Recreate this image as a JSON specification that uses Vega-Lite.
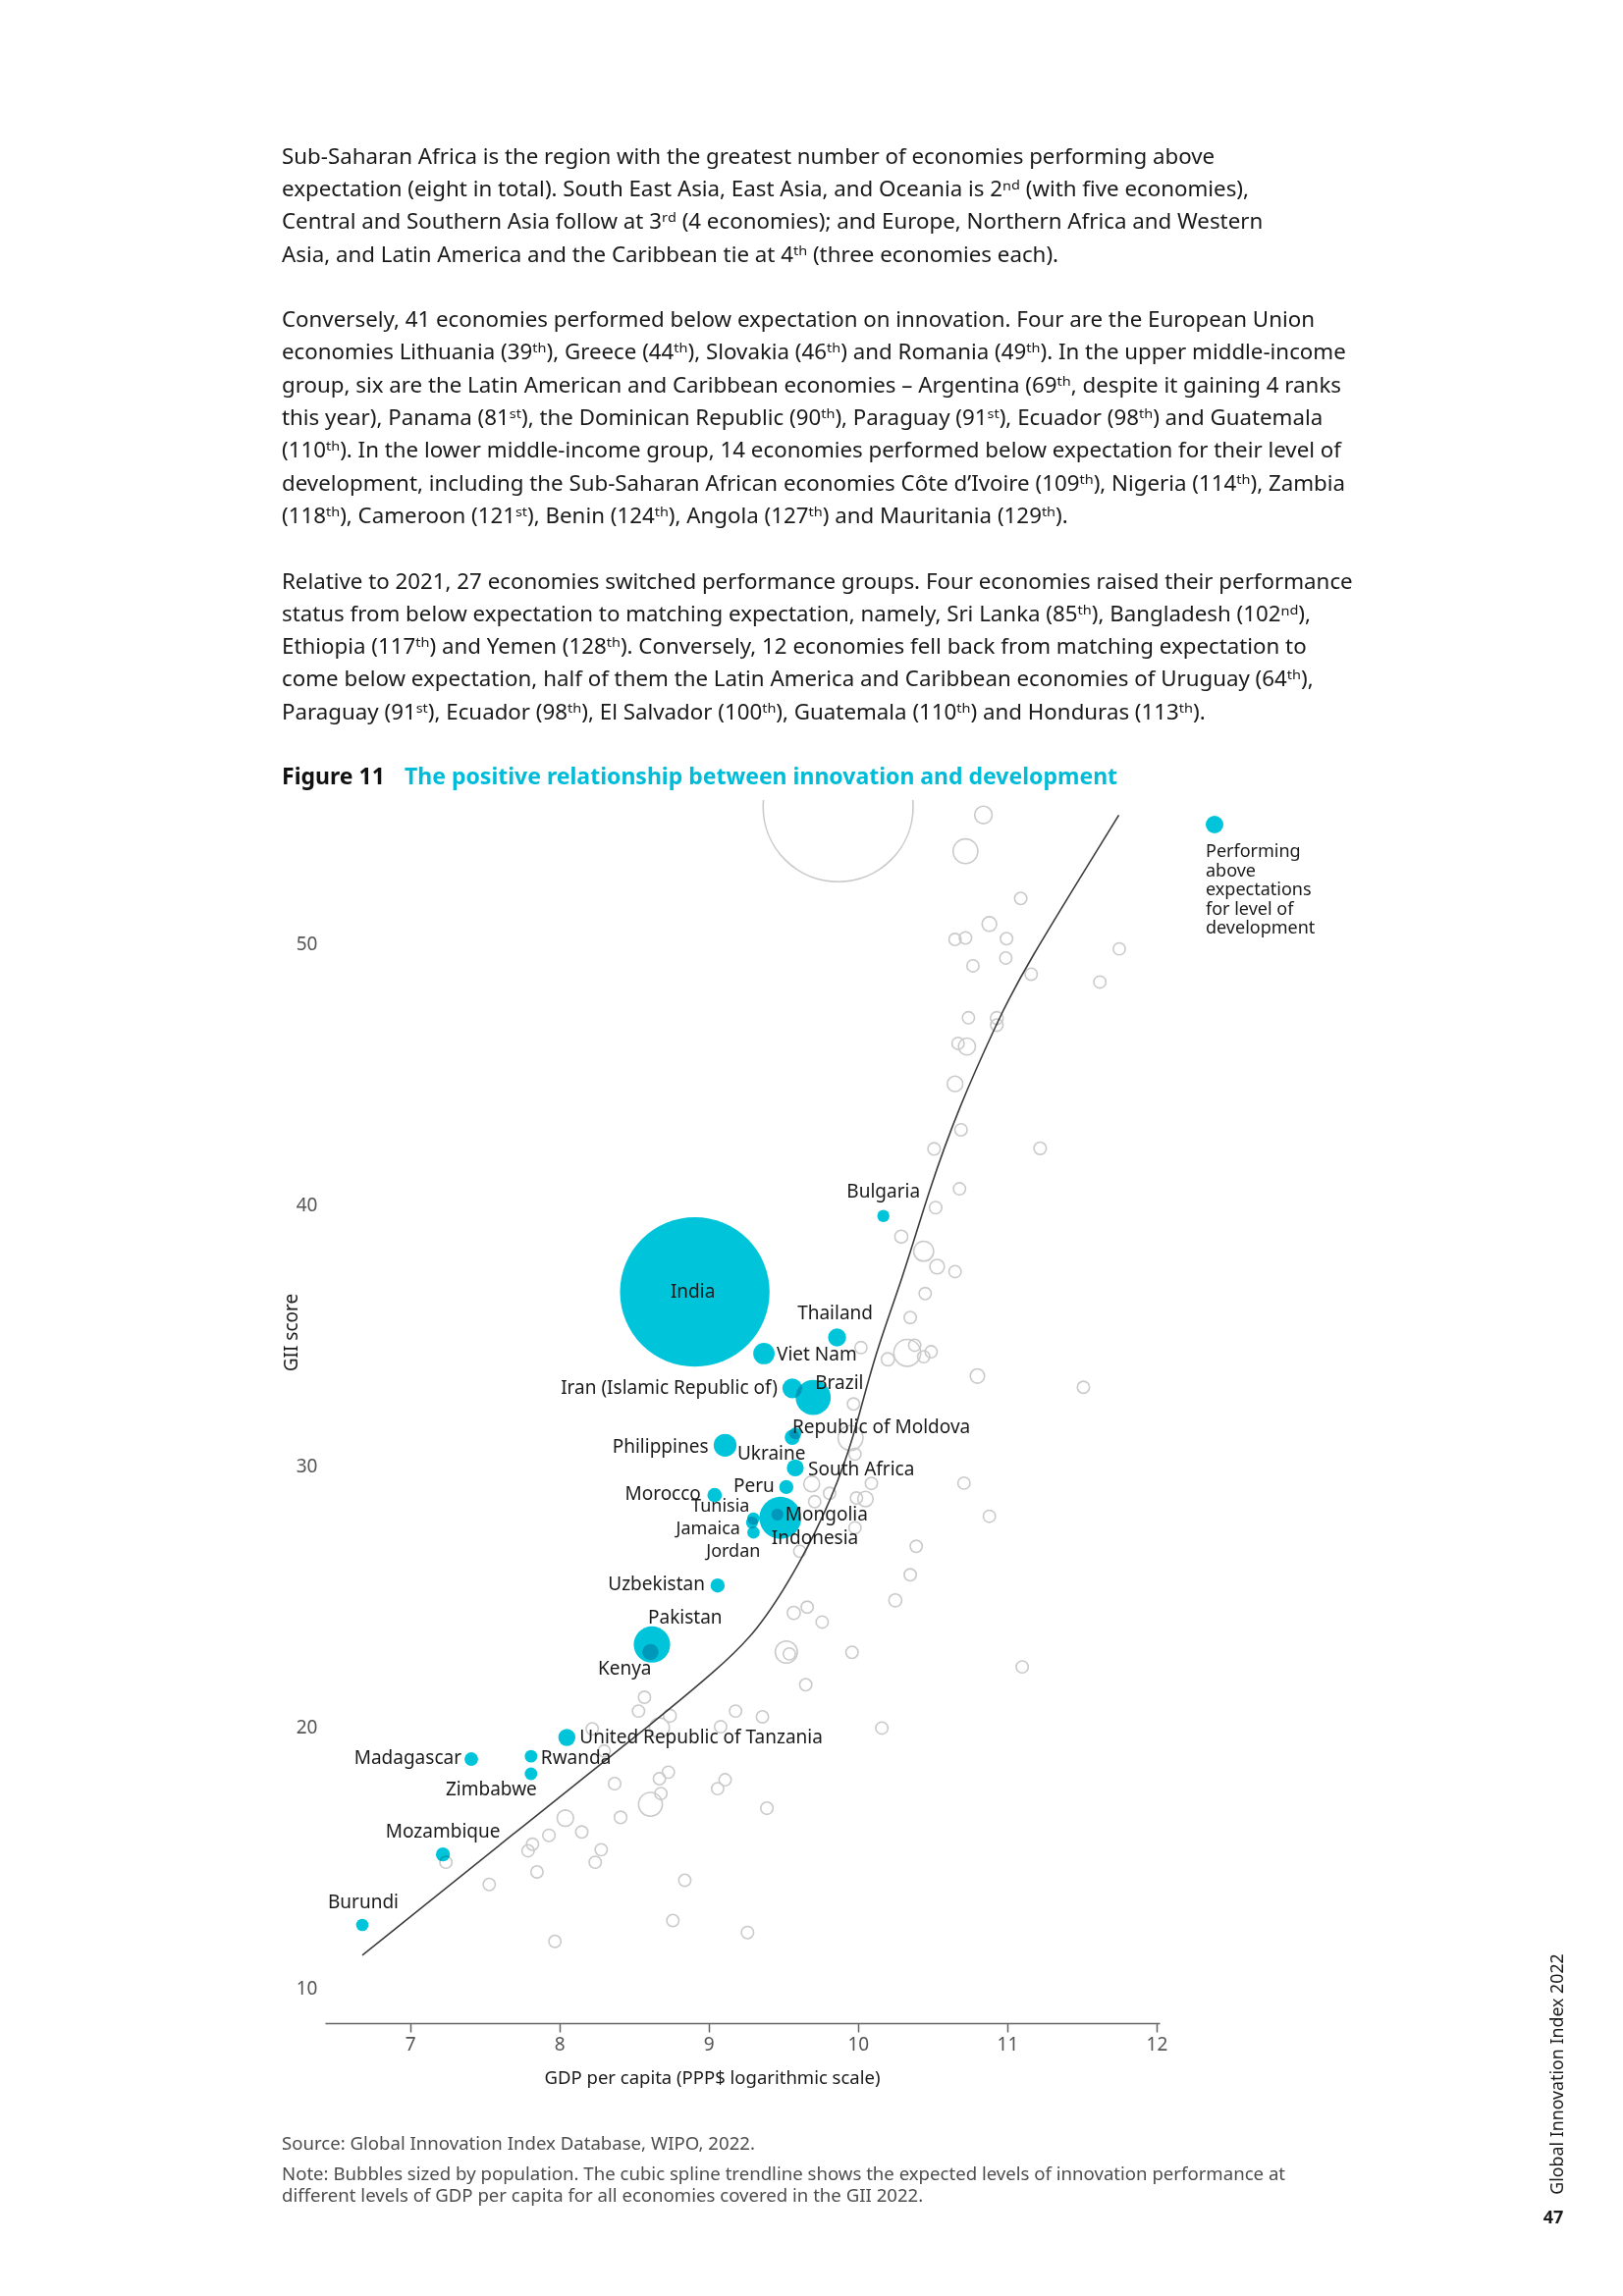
{
  "$schema": "https://vega.github.io/schema/vega-lite/v6.json",
  "background": "white",
  "padding": {"left": 287, "top": 143, "right": 0, "bottom": 0},
  "config": {
    "view": {"stroke": null},
    "font": "Noto Sans",
    "text": {"font": "Noto Sans"},
    "axis": {"labelFont": "Noto Sans", "titleFont": "Noto Sans"},
    "legend": {"labelFont": "Noto Sans", "titleFont": "Noto Sans"},
    "title": {"font": "Noto Sans", "subtitleFont": "Noto Sans"}
  },
  "datasets": {
    "page": [
      {"row": 0, "kind": "p", "text": "Sub-Saharan Africa is the region with the greatest number of economies performing above"},
      {"row": 1, "kind": "p", "text": "expectation (eight in total). South East Asia, East Asia, and Oceania is 2ⁿᵈ (with five economies),"},
      {"row": 2, "kind": "p", "text": "Central and Southern Asia follow at 3ʳᵈ (4 economies); and Europe, Northern Africa and Western"},
      {"row": 3, "kind": "p", "text": "Asia, and Latin America and the Caribbean tie at 4ᵗʰ (three economies each)."},
      {"row": 5, "kind": "p", "text": "Conversely, 41 economies performed below expectation on innovation. Four are the European Union"},
      {"row": 6, "kind": "p", "text": "economies Lithuania (39ᵗʰ), Greece (44ᵗʰ), Slovakia (46ᵗʰ) and Romania (49ᵗʰ). In the upper middle-income"},
      {"row": 7, "kind": "p", "text": "group, six are the Latin American and Caribbean economies – Argentina (69ᵗʰ, despite it gaining 4 ranks"},
      {"row": 8, "kind": "p", "text": "this year), Panama (81ˢᵗ), the Dominican Republic (90ᵗʰ), Paraguay (91ˢᵗ), Ecuador (98ᵗʰ) and Guatemala"},
      {"row": 9, "kind": "p", "text": "(110ᵗʰ). In the lower middle-income group, 14 economies performed below expectation for their level of"},
      {"row": 10, "kind": "p", "text": "development, including the Sub-Saharan African economies Côte d’Ivoire (109ᵗʰ), Nigeria (114ᵗʰ), Zambia"},
      {"row": 11, "kind": "p", "text": "(118ᵗʰ), Cameroon (121ˢᵗ), Benin (124ᵗʰ), Angola (127ᵗʰ) and Mauritania (129ᵗʰ)."},
      {"row": 13, "kind": "p", "text": "Relative to 2021, 27 economies switched performance groups. Four economies raised their performance"},
      {"row": 14, "kind": "p", "text": "status from below expectation to matching expectation, namely, Sri Lanka (85ᵗʰ), Bangladesh (102ⁿᵈ),"},
      {"row": 15, "kind": "p", "text": "Ethiopia (117ᵗʰ) and Yemen (128ᵗʰ). Conversely, 12 economies fell back from matching expectation to"},
      {"row": 16, "kind": "p", "text": "come below expectation, half of them the Latin America and Caribbean economies of Uruguay (64ᵗʰ),"},
      {"row": 17, "kind": "p", "text": "Paraguay (91ˢᵗ), Ecuador (98ᵗʰ), El Salvador (100ᵗʰ), Guatemala (110ᵗʰ) and Honduras (113ᵗʰ)."},
      {"row": 19, "kind": "f", "text": "Figure 11"},
      {"row": 19, "kind": "t", "text": "The positive relationship between innovation and development"}
    ],
    "gray": [
      {"gdp": 9.867, "gii": 55.23, "pop": 1412},
      {"gdp": 10.84, "gii": 54.92, "pop": 65},
      {"gdp": 10.72, "gii": 53.53, "pop": 125},
      {"gdp": 11.09, "gii": 51.72, "pop": 7},
      {"gdp": 10.88, "gii": 50.74, "pop": 38},
      {"gdp": 10.65, "gii": 50.15, "pop": 5},
      {"gdp": 10.72, "gii": 50.21, "pop": 9},
      {"gdp": 10.995, "gii": 50.18, "pop": 9},
      {"gdp": 11.75, "gii": 49.79, "pop": 1},
      {"gdp": 10.99, "gii": 49.44, "pop": 5},
      {"gdp": 10.77, "gii": 49.14, "pop": 5},
      {"gdp": 11.16, "gii": 48.82, "pop": 6},
      {"gdp": 11.62, "gii": 48.52, "pop": 5},
      {"gdp": 10.74, "gii": 47.15, "pop": 5},
      {"gdp": 10.93, "gii": 47.14, "pop": 17},
      {"gdp": 10.93, "gii": 46.87, "pop": 10},
      {"gdp": 10.67, "gii": 46.17, "pop": 5},
      {"gdp": 10.73, "gii": 46.05, "pop": 60},
      {"gdp": 10.65, "gii": 44.62, "pop": 47},
      {"gdp": 10.69, "gii": 42.86, "pop": 10},
      {"gdp": 10.51, "gii": 42.13, "pop": 10},
      {"gdp": 11.22, "gii": 42.15, "pop": 10},
      {"gdp": 10.68, "gii": 40.6, "pop": 5},
      {"gdp": 10.52, "gii": 39.88, "pop": 10},
      {"gdp": 10.29, "gii": 38.77, "pop": 19},
      {"gdp": 10.44, "gii": 38.21, "pop": 85},
      {"gdp": 10.53, "gii": 37.62, "pop": 38},
      {"gdp": 10.65, "gii": 37.43, "pop": 5},
      {"gdp": 10.45, "gii": 36.59, "pop": 5},
      {"gdp": 10.35, "gii": 35.67, "pop": 5},
      {"gdp": 10.02, "gii": 34.52, "pop": 5},
      {"gdp": 10.2, "gii": 34.07, "pop": 20},
      {"gdp": 10.33, "gii": 34.32, "pop": 144},
      {"gdp": 10.38, "gii": 34.61, "pop": 4},
      {"gdp": 10.44, "gii": 34.17, "pop": 4},
      {"gdp": 10.49, "gii": 34.36, "pop": 4},
      {"gdp": 10.8, "gii": 33.43, "pop": 35},
      {"gdp": 11.51, "gii": 33.0, "pop": 3},
      {"gdp": 9.97, "gii": 32.36, "pop": 5},
      {"gdp": 9.95, "gii": 31.06, "pop": 127},
      {"gdp": 9.98, "gii": 30.44, "pop": 5},
      {"gdp": 9.69, "gii": 29.3, "pop": 50},
      {"gdp": 9.81, "gii": 28.94, "pop": 5},
      {"gdp": 10.09, "gii": 29.32, "pop": 5},
      {"gdp": 10.71, "gii": 29.33, "pop": 5},
      {"gdp": 9.71, "gii": 28.62, "pop": 5},
      {"gdp": 9.99, "gii": 28.76, "pop": 5},
      {"gdp": 10.05, "gii": 28.72, "pop": 45},
      {"gdp": 10.88, "gii": 28.06, "pop": 5},
      {"gdp": 9.98, "gii": 27.62, "pop": 5},
      {"gdp": 9.61, "gii": 26.72, "pop": 4},
      {"gdp": 10.39, "gii": 26.91, "pop": 4},
      {"gdp": 10.35, "gii": 25.82, "pop": 5},
      {"gdp": 10.25, "gii": 24.84, "pop": 19},
      {"gdp": 9.57, "gii": 24.36, "pop": 20},
      {"gdp": 9.66, "gii": 24.58, "pop": 4},
      {"gdp": 9.76, "gii": 24.01, "pop": 5},
      {"gdp": 9.52, "gii": 22.86, "pop": 104},
      {"gdp": 9.54, "gii": 22.79, "pop": 5},
      {"gdp": 9.96, "gii": 22.85, "pop": 7},
      {"gdp": 11.1, "gii": 22.29, "pop": 4},
      {"gdp": 9.65, "gii": 21.61, "pop": 5},
      {"gdp": 10.16, "gii": 19.95, "pop": 5},
      {"gdp": 8.57, "gii": 21.13, "pop": 5},
      {"gdp": 8.74, "gii": 20.42, "pop": 17},
      {"gdp": 8.53, "gii": 20.6, "pop": 5},
      {"gdp": 9.18, "gii": 20.6, "pop": 5},
      {"gdp": 9.36, "gii": 20.38, "pop": 5},
      {"gdp": 9.08, "gii": 20.0, "pop": 5},
      {"gdp": 8.22, "gii": 19.92, "pop": 5},
      {"gdp": 8.67, "gii": 19.96, "pop": 85},
      {"gdp": 8.3, "gii": 19.07, "pop": 5},
      {"gdp": 8.73, "gii": 18.26, "pop": 5},
      {"gdp": 8.67, "gii": 18.01, "pop": 5},
      {"gdp": 9.11, "gii": 17.97, "pop": 5},
      {"gdp": 9.06, "gii": 17.63, "pop": 5},
      {"gdp": 8.37, "gii": 17.82, "pop": 10},
      {"gdp": 8.68, "gii": 17.44, "pop": 5},
      {"gdp": 8.61, "gii": 17.03, "pop": 118},
      {"gdp": 9.39, "gii": 16.88, "pop": 10},
      {"gdp": 8.04, "gii": 16.5, "pop": 55},
      {"gdp": 8.41, "gii": 16.53, "pop": 10},
      {"gdp": 8.15, "gii": 15.97, "pop": 5},
      {"gdp": 7.93, "gii": 15.84, "pop": 10},
      {"gdp": 7.82, "gii": 15.5, "pop": 5},
      {"gdp": 7.79, "gii": 15.25, "pop": 5},
      {"gdp": 8.28, "gii": 15.29, "pop": 5},
      {"gdp": 8.24, "gii": 14.81, "pop": 5},
      {"gdp": 7.24, "gii": 14.81, "pop": 5},
      {"gdp": 7.85, "gii": 14.44, "pop": 5},
      {"gdp": 7.53, "gii": 13.96, "pop": 5},
      {"gdp": 8.84, "gii": 14.12, "pop": 5},
      {"gdp": 8.76, "gii": 12.58, "pop": 5},
      {"gdp": 9.26, "gii": 12.12, "pop": 8},
      {"gdp": 7.97, "gii": 11.78, "pop": 5}
    ],
    "above": [
      {"name": "India", "gdp": 8.907, "gii": 36.65, "pop": 1407},
      {"name": "Bulgaria", "gdp": 10.17, "gii": 39.56, "pop": 6.9},
      {"name": "Thailand", "gdp": 9.86, "gii": 34.91, "pop": 70},
      {"name": "Viet Nam", "gdp": 9.37, "gii": 34.29, "pop": 98},
      {"name": "Iran (Islamic Republic of)", "gdp": 9.56, "gii": 32.96, "pop": 85},
      {"name": "Brazil", "gdp": 9.7, "gii": 32.61, "pop": 214},
      {"name": "Ukraine", "gdp": 9.56, "gii": 31.08, "pop": 44},
      {"name": "Republic of Moldova", "gdp": 9.58, "gii": 31.23, "pop": 2.6},
      {"name": "Philippines", "gdp": 9.11, "gii": 30.78, "pop": 110},
      {"name": "South Africa", "gdp": 9.58, "gii": 29.91, "pop": 60},
      {"name": "Peru", "gdp": 9.52, "gii": 29.18, "pop": 33},
      {"name": "Morocco", "gdp": 9.04, "gii": 28.87, "pop": 37},
      {"name": "Tunisia", "gdp": 9.3, "gii": 27.97, "pop": 12},
      {"name": "Jamaica", "gdp": 9.29, "gii": 27.82, "pop": 3},
      {"name": "Jordan", "gdp": 9.3, "gii": 27.44, "pop": 10},
      {"name": "Indonesia", "gdp": 9.48, "gii": 28.0, "pop": 274},
      {"name": "Mongolia", "gdp": 9.46, "gii": 28.13, "pop": 3.3},
      {"name": "Uzbekistan", "gdp": 9.06, "gii": 25.41, "pop": 34},
      {"name": "Pakistan", "gdp": 8.62, "gii": 23.15, "pop": 225},
      {"name": "Kenya", "gdp": 8.61, "gii": 22.86, "pop": 54},
      {"name": "United Republic of Tanzania", "gdp": 8.05, "gii": 19.59, "pop": 61},
      {"name": "Madagascar", "gdp": 7.41, "gii": 18.76, "pop": 28},
      {"name": "Rwanda", "gdp": 7.81, "gii": 18.87, "pop": 13},
      {"name": "Zimbabwe", "gdp": 7.81, "gii": 18.2, "pop": 15},
      {"name": "Mozambique", "gdp": 7.22, "gii": 15.11, "pop": 32},
      {"name": "Burundi", "gdp": 6.68, "gii": 12.41, "pop": 12}
    ],
    "trend": [
      {"gdp": 6.68, "gii": 11.25},
      {"gdp": 7.677, "gii": 15.83},
      {"gdp": 8.734, "gii": 20.64},
      {"gdp": 9.028, "gii": 22.07},
      {"gdp": 9.321, "gii": 23.57},
      {"gdp": 9.615, "gii": 26.28},
      {"gdp": 9.818, "gii": 28.66},
      {"gdp": 9.972, "gii": 31.05},
      {"gdp": 10.103, "gii": 34.11},
      {"gdp": 10.3, "gii": 37.18},
      {"gdp": 10.476, "gii": 40.56},
      {"gdp": 10.673, "gii": 43.7},
      {"gdp": 10.936, "gii": 47.02},
      {"gdp": 11.09, "gii": 48.83},
      {"gdp": 11.747, "gii": 54.91}
    ]
  },
  "resolve": {"scale": {"color": "independent", "size": "independent"}, "legend": {"color": "independent", "size": "independent"}},
  "spacing": 120,
  "hconcat": [
    {
      "spacing": 10,
      "resolve": {"scale": {"color": "independent", "size": "independent"}, "legend": {"color": "independent", "size": "independent"}},
      "vconcat": [
        {
          "width": 1120,
          "height": 649.35,
          "data": {"name": "page"},
          "encoding": {
            "y": {"field": "row", "type": "quantitative", "axis": null,
                  "scale": {"domain": [-0.5, 19], "reverse": true, "nice": false, "zero": false}},
            "x": {"value": 0},
            "text": {"field": "text"}
          },
          "layer": [
            {"transform": [{"filter": "datum.kind === 'p'"}],
             "mark": {"type": "text", "align": "left", "baseline": "middle", "dx": -44, "fontSize": 22.3, "color": "#1a1a1a"}},
            {"transform": [{"filter": "datum.kind === 'f'"}],
             "mark": {"type": "text", "align": "left", "baseline": "middle", "dx": -44, "fontSize": 23, "fontWeight": "bold", "color": "#111111"}},
            {"transform": [{"filter": "datum.kind === 't'"}],
             "mark": {"type": "text", "align": "left", "baseline": "middle", "dx": 81, "fontSize": 23, "fontWeight": "bold", "color": "#00bcd8"}}
          ]
        },
        {
          "width": 850,
          "height": 1246,
          "title": {
            "text": "Source: Global Innovation Index Database, WIPO, 2022.",
            "subtitle": [
              "Note: Bubbles sized by population. The cubic spline trendline shows the expected levels of innovation performance at",
              "different levels of GDP per capita for all economies covered in the GII 2022."
            ],
            "orient": "bottom",
            "anchor": "start",
            "frame": "bounds",
            "fontSize": 18.6,
            "fontWeight": "normal",
            "color": "#4d4d4d",
            "subtitleFontSize": 18.6,
            "subtitleColor": "#4d4d4d",
            "subtitleLineHeight": 22,
            "subtitlePadding": 13,
            "baseline": "top",
            "offset": 49,
            "limit": 0
          },
          "layer": [
            {
              "data": {"name": "gray"},
              "mark": {"type": "point", "shape": "circle", "filled": false, "color": "#cacaca", "strokeWidth": 1.6, "opacity": 1, "clip": true},
              "encoding": {
                "x": {"field": "gdp", "type": "quantitative",
                      "scale": {"domain": [6.43, 12.02], "nice": false, "zero": false},
                      "axis": {"values": [7, 8, 9, 10, 11, 12], "format": "d", "grid": false,
                               "domain": true, "domainColor": "#666666", "domainWidth": 1.5,
                               "ticks": true, "tickColor": "#666666", "tickWidth": 1.5, "tickSize": 9,
                               "labelFontSize": 19, "labelColor": "#555555", "labelPadding": 3,
                               "title": "GDP per capita (PPP$ logarithmic scale)", "titleFontSize": 18.5,
                               "titleFontWeight": "normal", "titleColor": "#1a1a1a",
                               "titleX": 394, "titleY": 55, "titleAlign": "center", "titleBaseline": "middle"}},
                "y": {"field": "gii", "type": "quantitative",
                      "scale": {"domain": [8.65, 55.49], "nice": false, "zero": false},
                      "axis": {"values": [10, 20, 30, 40, 50], "grid": false, "domain": false, "ticks": false,
                               "labelFontSize": 19, "labelColor": "#555555", "labelPadding": 8,
                               "title": "GII score", "titleFontSize": 19, "titleFontWeight": "normal",
                               "titleColor": "#1a1a1a", "titleX": -35, "titleY": 542, "titleAngle": -90,
                               "titleAlign": "center", "titleBaseline": "middle"}},
                "size": {"field": "pop", "type": "quantitative", "legend": null,
                         "scale": {"type": "pow", "exponent": 1.6, "domain": [0, 1420], "range": [150, 23534]}}
              }
            },
            {
              "data": {"name": "trend"},
              "mark": {"type": "line", "color": "#3c3c3c", "strokeWidth": 1.6, "interpolate": "basis", "clip": true},
              "encoding": {
                "x": {"field": "gdp", "type": "quantitative"},
                "y": {"field": "gii", "type": "quantitative"}
              }
            },
            {
              "data": {"name": "above"},
              "mark": {"type": "circle", "opacity": 1, "blend": "multiply"},
              "encoding": {
                "x": {"field": "gdp", "type": "quantitative"},
                "y": {"field": "gii", "type": "quantitative"},
                "size": {"field": "pop", "type": "quantitative", "legend": null,
                         "scale": {"type": "pow", "exponent": 1.6, "domain": [0, 1420], "range": [150, 23534]}},
                "color": {"datum": "Performing above expectations for level of development",
                          "scale": {"range": ["#00c5da"]},
                          "legend": {"orient": "none", "legendX": 897, "legendY": 16,
                                     "title": ["Performing", "above", "expectations", "for level of", "development"],
                                     "titleOrient": "bottom", "titleAnchor": "start", "titlePadding": 10,
                                     "titleFontSize": 18, "titleFontWeight": "normal", "titleColor": "#1a1a1a",
                                     "titleLineHeight": 19.5, "titleLimit": 400,
                                     "symbolSize": 324, "symbolType": "circle", "symbolStrokeWidth": 0, "symbolOpacity": 1,
                                     "labelExpr": "''", "padding": 0}}
              }
            },
            {
              "data": {"name": "above"},
              "encoding": {
                "x": {"field": "gdp", "type": "quantitative"},
                "y": {"field": "gii", "type": "quantitative"},
                "text": {"field": "name"}
              },
              "layer": [
                {"transform": [{"filter": "datum.name === 'India'"}], "mark": {"type": "text", "align": "center", "baseline": "middle", "dx": -2, "dy": 0, "fontSize": 19, "color": "#1a1a1a"}},
                {"transform": [{"filter": "datum.name === 'Bulgaria'"}], "mark": {"type": "text", "align": "center", "baseline": "middle", "dx": 0, "dy": -25, "fontSize": 19, "color": "#1a1a1a"}},
                {"transform": [{"filter": "datum.name === 'Thailand'"}], "mark": {"type": "text", "align": "center", "baseline": "middle", "dx": -2, "dy": -24, "fontSize": 19, "color": "#1a1a1a"}},
                {"transform": [{"filter": "datum.name === 'Viet Nam'"}], "mark": {"type": "text", "align": "left", "baseline": "middle", "dx": 13, "dy": 1, "fontSize": 19, "color": "#1a1a1a"}},
                {"transform": [{"filter": "datum.name === 'Iran (Islamic Republic of)'"}], "mark": {"type": "text", "align": "right", "baseline": "middle", "dx": -15, "dy": 0, "fontSize": 19, "color": "#1a1a1a"}},
                {"transform": [{"filter": "datum.name === 'Brazil'"}], "mark": {"type": "text", "align": "left", "baseline": "middle", "dx": 2, "dy": -15, "fontSize": 19, "color": "#1a1a1a"}},
                {"transform": [{"filter": "datum.name === 'Republic of Moldova'"}], "mark": {"type": "text", "align": "left", "baseline": "middle", "dx": -3, "dy": -6, "fontSize": 19, "color": "#1a1a1a"}},
                {"transform": [{"filter": "datum.name === 'Ukraine'"}], "mark": {"type": "text", "align": "left", "baseline": "middle", "dx": -56, "dy": 17, "fontSize": 19, "color": "#1a1a1a"}},
                {"transform": [{"filter": "datum.name === 'Philippines'"}], "mark": {"type": "text", "align": "right", "baseline": "middle", "dx": -17, "dy": 2, "fontSize": 19, "color": "#1a1a1a"}},
                {"transform": [{"filter": "datum.name === 'South Africa'"}], "mark": {"type": "text", "align": "left", "baseline": "middle", "dx": 13, "dy": 2, "fontSize": 19, "color": "#1a1a1a"}},
                {"transform": [{"filter": "datum.name === 'Peru'"}], "mark": {"type": "text", "align": "right", "baseline": "middle", "dx": -12, "dy": -1, "fontSize": 19, "color": "#1a1a1a"}},
                {"transform": [{"filter": "datum.name === 'Morocco'"}], "mark": {"type": "text", "align": "right", "baseline": "middle", "dx": -14, "dy": -1, "fontSize": 19, "color": "#1a1a1a"}},
                {"transform": [{"filter": "datum.name === 'Tunisia'"}], "mark": {"type": "text", "align": "right", "baseline": "middle", "dx": -4, "dy": -12, "fontSize": 18, "color": "#1a1a1a"}},
                {"transform": [{"filter": "datum.name === 'Jamaica'"}], "mark": {"type": "text", "align": "right", "baseline": "middle", "dx": -12, "dy": 7, "fontSize": 18, "color": "#1a1a1a"}},
                {"transform": [{"filter": "datum.name === 'Jordan'"}], "mark": {"type": "text", "align": "right", "baseline": "middle", "dx": 7, "dy": 20, "fontSize": 18, "color": "#1a1a1a"}},
                {"transform": [{"filter": "datum.name === 'Mongolia'"}], "mark": {"type": "text", "align": "left", "baseline": "middle", "dx": 8, "dy": 0, "fontSize": 19, "color": "#1a1a1a"}},
                {"transform": [{"filter": "datum.name === 'Indonesia'"}], "mark": {"type": "text", "align": "left", "baseline": "middle", "dx": -9, "dy": 21, "fontSize": 19, "color": "#1a1a1a"}},
                {"transform": [{"filter": "datum.name === 'Uzbekistan'"}], "mark": {"type": "text", "align": "right", "baseline": "middle", "dx": -13, "dy": -1, "fontSize": 19, "color": "#1a1a1a"}},
                {"transform": [{"filter": "datum.name === 'Pakistan'"}], "mark": {"type": "text", "align": "left", "baseline": "middle", "dx": -4, "dy": -27, "fontSize": 19, "color": "#1a1a1a"}},
                {"transform": [{"filter": "datum.name === 'Kenya'"}], "mark": {"type": "text", "align": "right", "baseline": "middle", "dx": 1, "dy": 17, "fontSize": 19, "color": "#1a1a1a"}},
                {"transform": [{"filter": "datum.name === 'United Republic of Tanzania'"}], "mark": {"type": "text", "align": "left", "baseline": "middle", "dx": 13, "dy": 0, "fontSize": 19, "color": "#1a1a1a"}},
                {"transform": [{"filter": "datum.name === 'Madagascar'"}], "mark": {"type": "text", "align": "right", "baseline": "middle", "dx": -10, "dy": -1, "fontSize": 19, "color": "#1a1a1a"}},
                {"transform": [{"filter": "datum.name === 'Rwanda'"}], "mark": {"type": "text", "align": "left", "baseline": "middle", "dx": 10, "dy": 2, "fontSize": 19, "color": "#1a1a1a"}},
                {"transform": [{"filter": "datum.name === 'Zimbabwe'"}], "mark": {"type": "text", "align": "right", "baseline": "middle", "dx": 6, "dy": 16, "fontSize": 19, "color": "#1a1a1a"}},
                {"transform": [{"filter": "datum.name === 'Mozambique'"}], "mark": {"type": "text", "align": "center", "baseline": "middle", "dx": 0, "dy": -23, "fontSize": 19, "color": "#1a1a1a"}},
                {"transform": [{"filter": "datum.name === 'Burundi'"}], "mark": {"type": "text", "align": "center", "baseline": "middle", "dx": 1, "dy": -23, "fontSize": 19, "color": "#1a1a1a"}}
              ]
            }
          ]
        }
      ]
    },
    {
      "spacing": 2,
      "vconcat": [
        {
          "width": 20,
          "height": 1838,
          "data": {"values": [{"t": ""}]},
          "mark": {"type": "text"},
          "encoding": {"text": {"field": "t"}}
        },
        {
          "width": 30,
          "height": 260,
          "data": {"values": [{"t": "Global Innovation Index 2022"}]},
          "mark": {"type": "text", "angle": 270, "fontSize": 17.8, "color": "#1a1a1a", "align": "center", "baseline": "middle"},
          "encoding": {"text": {"field": "t"}}
        },
        {
          "width": 20,
          "height": 30,
          "data": {"values": [{"t": "47"}]},
          "mark": {"type": "text", "fontSize": 18, "fontWeight": "bold", "color": "#1a1a1a", "align": "center", "baseline": "middle"},
          "encoding": {"text": {"field": "t"}}
        }
      ]
    }
  ]
}
